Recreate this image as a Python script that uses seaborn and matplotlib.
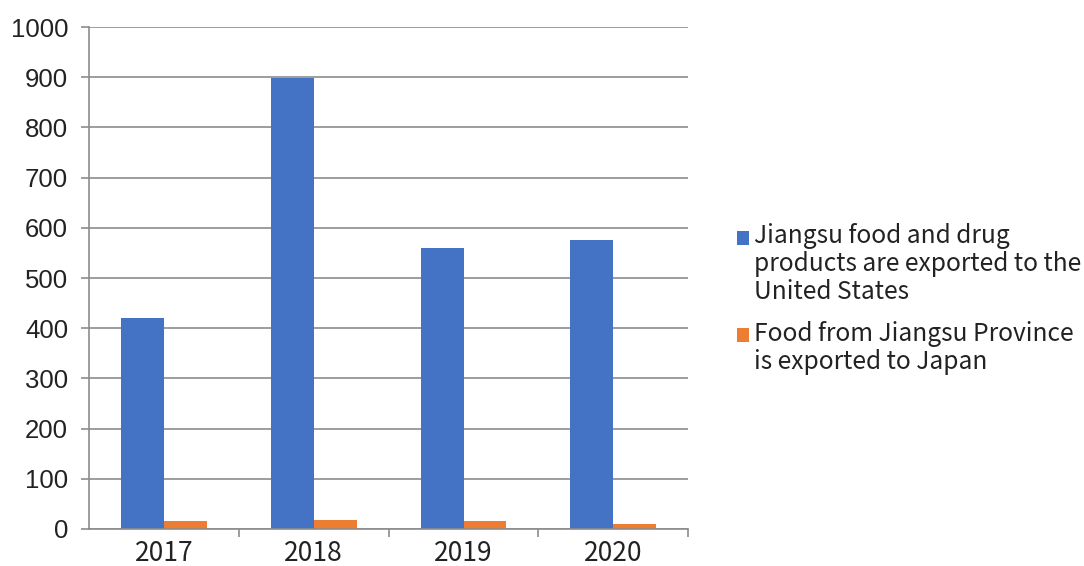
import matplotlib
matplotlib.use("Agg")
import matplotlib.pyplot as plt
import seaborn as sns
import pandas as pd
from matplotlib.ticker import FixedLocator, MultipleLocator, NullFormatter
from matplotlib.legend_handler import HandlerPatch
from matplotlib.patches import Rectangle

years = ["2017", "2018", "2019", "2020"]
us_values = [421, 898, 560, 576]
japan_values = [16, 17, 15, 9]
series_names = [
    "Jiangsu food and drug\nproducts are exported to the\nUnited States",
    "Food from Jiangsu Province\nis exported to Japan",
]
colors = ["#4472C4", "#ED7D31"]

df = pd.DataFrame({
    "year": years * 2,
    "value": us_values + japan_values,
    "series": [series_names[0]] * 4 + [series_names[1]] * 4,
})

sns.set_theme(style="white")
plt.rcParams["font.family"] = ["Noto Sans CJK SC", "DejaVu Sans"]

fig = plt.figure(figsize=(10.84, 5.66), dpi=100)
ax = fig.add_axes([0.082, 0.0654, 0.553, 0.8868])

sns.barplot(data=df, x="year", y="value", hue="series", order=years,
            hue_order=series_names, palette=colors, width=0.573,
            saturation=1, ax=ax, legend=True, edgecolor="none")

ax.set_ylim(0, 1000)
ax.set_xlim(-0.5, 3.5)
ax.yaxis.set_major_locator(MultipleLocator(100))
ax.grid(axis="y", color="#8c8c8c", linewidth=1.2)
ax.set_axisbelow(True)
ax.set_xlabel("")
ax.set_ylabel("")

for s in ["top", "right"]:
    ax.spines[s].set_visible(False)
for s in ["left", "bottom"]:
    ax.spines[s].set_color("#8c8c8c")
    ax.spines[s].set_linewidth(1.2)

ax.tick_params(axis="y", which="major", left=True, length=6, width=1.2,
               color="#8c8c8c", pad=9, labelsize=18.5)
for lbl in ax.get_yticklabels():
    lbl.set_family(["Liberation Sans", "DejaVu Sans"])
    lbl.set_color("#222222")

ax.tick_params(axis="x", which="major", bottom=False, length=0, pad=8,
               labelsize=19, labelcolor="#222222")
ax.xaxis.set_minor_locator(FixedLocator([0.5, 1.5, 2.5, 3.5]))
ax.xaxis.set_minor_formatter(NullFormatter())
ax.tick_params(axis="x", which="minor", bottom=True, length=6, width=1.2,
               color="#8c8c8c")

LEG_FS = 17.7
LINE_STEP_PT = 19.8
nlines = {name: name.count("\n") + 1 for name in series_names}


class TopAlignedHandler(HandlerPatch):
    def __init__(self, label):
        super().__init__()
        self.label = label

    def create_artists(self, legend, orig_handle, xdescent, ydescent,
                       width, height, fontsize, trans):
        shift = (nlines[self.label] - 1) / 2 * LINE_STEP_PT
        p = Rectangle((-xdescent, -ydescent + shift), width, height,
                      facecolor=orig_handle.get_facecolor(), edgecolor="none")
        p.set_transform(trans)
        return [p]


leg = ax.get_legend()
handles = leg.legend_handles
leg.remove()
handler_map = {h: TopAlignedHandler(n) for h, n in zip(handles, series_names)}
lg = fig.legend(handles, series_names, loc="upper left",
                bbox_to_anchor=(0.6706, 0.624), frameon=False,
                fontsize=LEG_FS, handlelength=0.49, handleheight=0.49,
                handletextpad=0.2, labelspacing=0.63, borderaxespad=0,
                labelcolor="#222222", handler_map=handler_map)
for t in lg.get_texts():
    t.set_linespacing(1.11)
    t.set_fontweight("light")

fig.savefig("out.png", dpi=100)
